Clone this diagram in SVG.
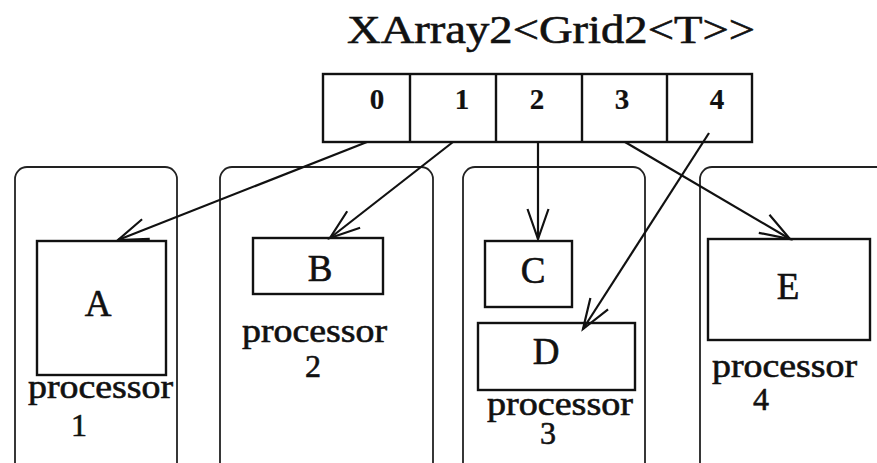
<svg xmlns="http://www.w3.org/2000/svg" width="877" height="463" viewBox="0 0 877 463">
<style>
.box{fill:none;stroke:#111;stroke-width:2.4}
.proc{fill:none;stroke:#222;stroke-width:1.8}
.t{font-family:"Liberation Serif","Times New Roman",serif;fill:#111;stroke:#111;stroke-width:0.6}
.dig{font-size:29px;font-weight:bold;stroke-width:0.2;text-anchor:middle}
.lbl{font-size:37px;text-anchor:middle}
.pl{font-size:33px}
.num{font-size:32px;text-anchor:middle}
.conn{fill:none;stroke:#111;stroke-width:2.2}
</style>
<defs>
<marker id="arr" markerUnits="userSpaceOnUse" markerWidth="34" markerHeight="26" viewBox="0 0 34 26" refX="31" refY="13" orient="auto">
<path d="M1,2.5 L31,13 L1,23.5" fill="none" stroke="#111" stroke-width="2.2"/>
</marker>
</defs>
<rect width="877" height="463" fill="#fff"/>
<g id="title">
<text class="t" x="347" y="43" font-size="39" textLength="408" lengthAdjust="spacingAndGlyphs">XArray2&lt;Grid2&lt;T&gt;&gt;</text>
</g>
<g id="array">
<rect class="box" x="323" y="74" width="429" height="68"/>
<line class="box" x1="410" y1="74" x2="410" y2="142"/>
<line class="box" x1="496" y1="74" x2="496" y2="142"/>
<line class="box" x1="582" y1="74" x2="582" y2="142"/>
<line class="box" x1="667" y1="74" x2="667" y2="142"/>
<text class="t dig" x="377" y="109">0</text>
<text class="t dig" x="462" y="109">1</text>
<text class="t dig" x="537" y="109">2</text>
<text class="t dig" x="622" y="109">3</text>
<text class="t dig" x="717" y="109">4</text>
</g>
<g id="processor1">
<rect class="proc" x="15" y="167" width="162" height="330" rx="12"/>
<text class="t pl" x="28" y="398" textLength="145" lengthAdjust="spacingAndGlyphs">processor</text>
<text class="t num" x="79" y="436">1</text>
</g>
<g id="processor2">
<rect class="proc" x="220" y="167" width="213" height="330" rx="12"/>
<text class="t pl" x="242" y="342" textLength="145" lengthAdjust="spacingAndGlyphs">processor</text>
<text class="t num" x="313" y="377">2</text>
</g>
<g id="processor3">
<rect class="proc" x="463" y="167" width="182" height="330" rx="12"/>
<text class="t pl" x="487" y="415" textLength="146" lengthAdjust="spacingAndGlyphs">processor</text>
<text class="t num" x="548" y="444">3</text>
</g>
<g id="processor4">
<rect class="proc" x="700" y="167" width="220" height="330" rx="12"/>
<text class="t pl" x="712" y="377" textLength="145" lengthAdjust="spacingAndGlyphs">processor</text>
<text class="t num" x="761" y="410">4</text>
</g>
<g id="A">
<rect class="box" x="37" y="241" width="129" height="134"/>
<text class="t lbl" x="98" y="316" font-size="39">A</text>
</g>
<g id="B">
<rect class="box" x="253" y="238" width="130" height="56"/>
<text class="t lbl" x="320" y="281">B</text>
</g>
<g id="C">
<rect class="box" x="485" y="241" width="87" height="66"/>
<text class="t lbl" x="533" y="283">C</text>
</g>
<g id="D">
<rect class="box" x="478" y="323" width="157" height="67"/>
<text class="t lbl" x="546" y="364">D</text>
</g>
<g id="E">
<rect class="box" x="708" y="239" width="162" height="101"/>
<text class="t lbl" x="788" y="299">E</text>
</g>
<g id="connectors">
<line class="conn" x1="367" y1="142" x2="118" y2="240" marker-end="url(#arr)"/>
<line class="conn" x1="453" y1="142" x2="330" y2="238" marker-end="url(#arr)"/>
<line class="conn" x1="538" y1="142" x2="538" y2="239" marker-end="url(#arr)"/>
<line class="conn" x1="625" y1="142" x2="790" y2="239" marker-end="url(#arr)"/>
<line class="conn" x1="709" y1="133" x2="583" y2="329" marker-end="url(#arr)"/>
</g>
</svg>
